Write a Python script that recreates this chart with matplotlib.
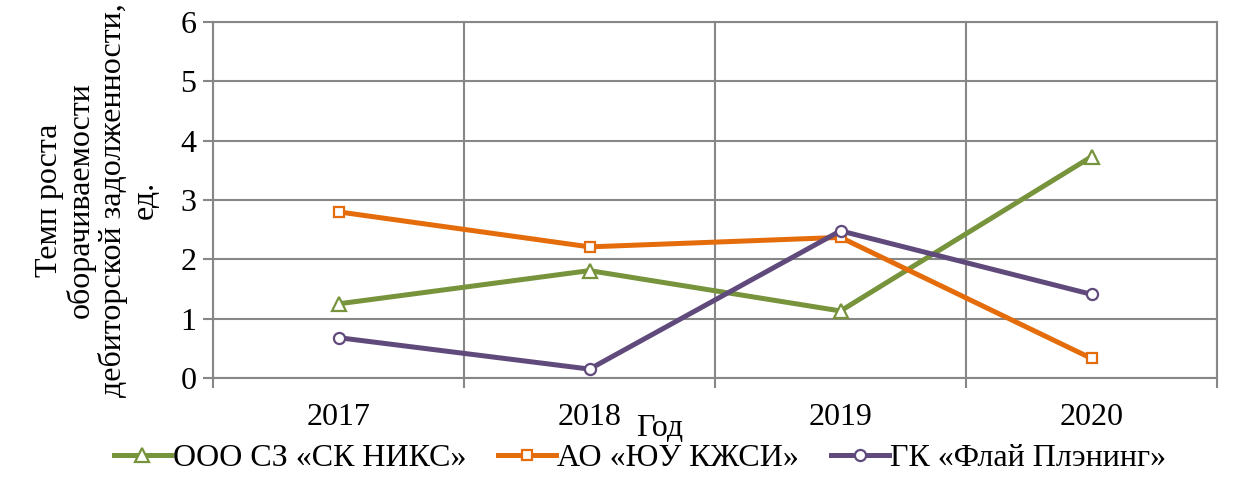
import matplotlib.pyplot as plt
from matplotlib.ticker import FixedLocator, NullFormatter

plt.rcParams['font.family'] = ['Liberation Serif', 'DejaVu Serif']

years = ['2017', '2018', '2019', '2020']
niks = [1.25, 1.81, 1.13, 3.73]
kzhsi = [2.80, 2.21, 2.37, 0.33]
flai = [0.68, 0.15, 2.48, 1.41]

names = ['ООО СЗ «СК НИКС»', 'АО «ЮУ КЖСИ»', 'ГК «Флай Плэнинг»']
colors = ['#77933C', '#E46C0A', '#604A7B']
markers = ['^', 's', 'o']
msizes = [9.5, 7.5, 8]

fig = plt.figure(figsize=(12.42, 4.91), dpi=100)
ax = fig.add_axes([213 / 1242, 1 - 378 / 491, 1004 / 1242, 356 / 491])

x = list(range(len(years)))
for vals, name, c, m, ms in zip([niks, kzhsi, flai], names, colors, markers, msizes):
    ax.plot(x, vals, color=c, lw=3.6, marker=m, markersize=ms,
            markerfacecolor='white', markeredgecolor=c, markeredgewidth=1.6,
            label=name, zorder=3)

grid_c = '#878787'
ax.set_ylim(0, 6)
ax.set_yticks(range(7))
ax.set_xlim(-0.5, 3.5)
ax.xaxis.set_major_locator(FixedLocator([-0.5, 0.5, 1.5, 2.5, 3.5]))
ax.xaxis.set_major_formatter(NullFormatter())
ax.xaxis.set_minor_locator(FixedLocator(x))
ax.set_xticklabels(years, minor=True)
ax.tick_params(axis='x', which='minor', length=0, pad=18, labelsize=23)
ax.tick_params(axis='x', which='major', length=7, width=1.5, color=grid_c)
ax.tick_params(axis='y', length=7, width=1.5, color=grid_c, labelsize=23, pad=5)
ax.grid(True, which='major', color=grid_c, lw=1.5)
for s in ax.spines.values():
    s.set_color(grid_c)
    s.set_linewidth(1.5)

fig.text(97 / 1242, 1 - 200 / 491,
         'Темп роста\nоборачиваемости\nдебиторской задолженности,\nед.',
         fontsize=23, rotation=90, ha='center', va='center',
         multialignment='center', linespacing=1.1)
fig.text(660 / 1242, 1 - 428 / 491, 'Год', fontsize=23, ha='center', va='center')

fig.legend(loc='center', bbox_to_anchor=(640 / 1242, 1 - 458 / 491), ncol=3,
           frameon=False, fontsize=23, handlelength=1.8, columnspacing=1.0,
           handletextpad=0.05, borderpad=0)

fig.savefig('out.png', dpi=100)
